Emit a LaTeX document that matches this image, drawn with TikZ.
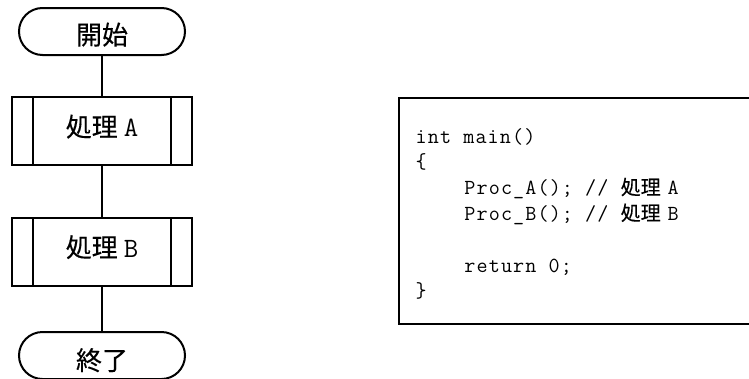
\documentclass[tikz,border=0pt]{standalone}
\usepackage{fontspec}
\newfontfamily\cjk[FakeBold=0.3]{Noto Sans CJK JP}
\newfontfamily\codefont[LetterSpace=5.2]{Latin Modern Mono}
\tikzset{
  line/.style={line width=2pt, black},
  term/.style={draw, line width=2pt, minimum width=166pt, minimum height=47pt,
    rounded corners=23.5pt, inner sep=0pt},
  proc/.style={draw, line width=2pt, minimum width=180pt, minimum height=68pt,
    inner sep=0pt,
    path picture={
      \draw[line width=2pt]
        ([xshift=21pt]path picture bounding box.north west) --
        ([xshift=21pt]path picture bounding box.south west)
        ([xshift=-21pt]path picture bounding box.north east) --
        ([xshift=-21pt]path picture bounding box.south east);
    }},
  lbl/.style={anchor=base, inner sep=0pt, font=\fontsize{26}{30}\selectfont},
  code/.style={anchor=base west, inner sep=0pt, font=\codefont\fontsize{21.5}{25}\selectfont},
}
\newcommand{\jp}[1]{{\cjk #1}}
\newcommand{\cm}[1]{{\cjk\fontsize{20}{25}\selectfont #1}\hspace{7pt}}
\newcommand{\ml}[1]{{\ttfamily\fontsize{28}{30}\selectfont #1}}
\begin{document}
\begin{tikzpicture}[x=1pt, y=-1pt]
  \useasboundingbox (0,0) rectangle (749,378);

  % flowchart
  \node[term] (start) at (102,31.5) {};
  \node[lbl] (startl) at (102,44.5) {\jp{開始}};
  \node[proc] (pa) at (102,131) {};
  \node[lbl] (pal) at (102,136.5) {\jp{処理}\hspace{6pt}\ml{A}};
  \node[proc] (pb) at (102,251.5) {};
  \node[lbl] (pbl) at (102,257) {\jp{処理}\hspace{6pt}\ml{B}};
  \node[term] (end) at (102,355.5) {};
  \node[lbl] (endl) at (102,370) {\jp{終了}};

  \draw[line] (start) -- (pa);
  \draw[line] (pa) -- (pb);
  \draw[line] (pb) -- (end);

  % source listing
  \draw[line width=1.8pt] (760,98) -- (399,98) -- (399,324) -- (760,324);
  \node[code] (c1) at (415.5,143) {int main()};
  \node[code] (c2) at (415.5,168.8) {\{};
  \node[code] (c3) at (415.5,194.6) {\ \ \ \ Proc\_A(); // \cm{処理}A};
  \node[code] (c4) at (415.5,220.4) {\ \ \ \ Proc\_B(); // \cm{処理}B};
  \node[code] (c5) at (415.5,272) {\ \ \ \ return 0;};
  \node[code] (c6) at (415.5,297.8) {\}};
\end{tikzpicture}
\end{document}
